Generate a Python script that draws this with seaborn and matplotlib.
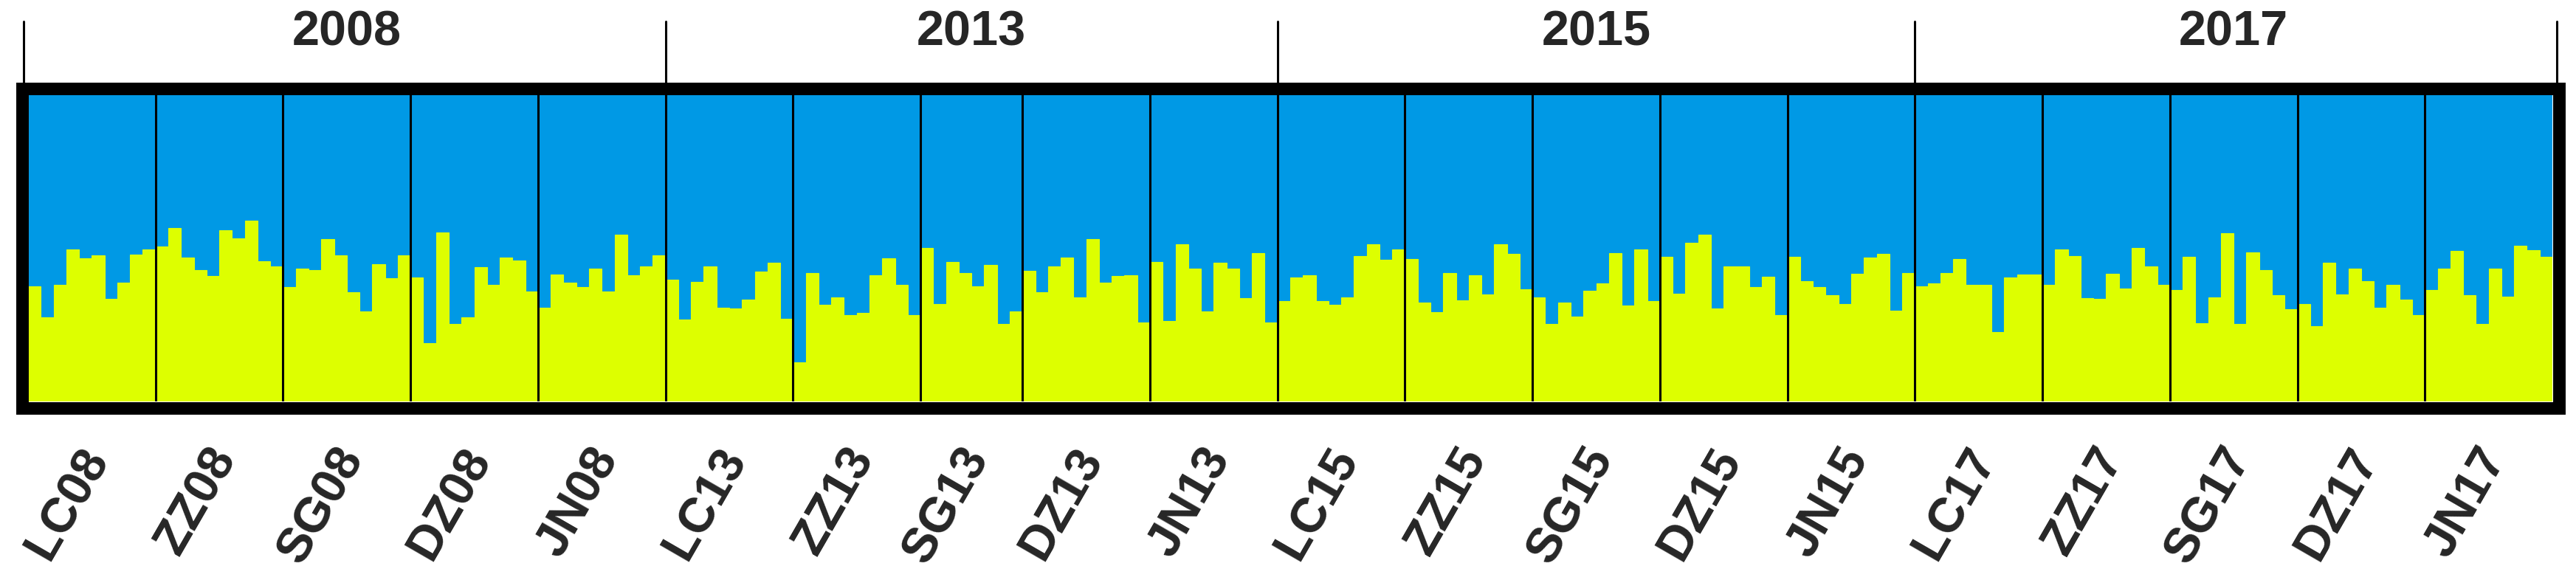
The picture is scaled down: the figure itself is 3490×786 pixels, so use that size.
#!/usr/bin/env python3

import matplotlib
matplotlib.use("Agg")
import matplotlib.pyplot as plt
import matplotlib.transforms as mtransforms
from matplotlib.patches import Rectangle
import seaborn as sns
import pandas as pd
import numpy as np

# ===================== DATA =====================
# Proportion of each individual assigned to the yellow cluster (K=2)

LC08 = [0.374, 0.274, 0.381, 0.495, 0.467, 0.476, 0.334, 0.387, 0.479, 0.495]
ZZ08 = [0.505, 0.565, 0.469, 0.429, 0.408, 0.557, 0.532, 0.589, 0.456, 0.439]
SG08 = [0.372, 0.432, 0.427, 0.529, 0.477, 0.356, 0.294, 0.446, 0.401, 0.477]
DZ08 = [0.405, 0.190, 0.551, 0.252, 0.274, 0.437, 0.381, 0.468, 0.460, 0.358]
JN08 = [0.305, 0.413, 0.388, 0.372, 0.432, 0.358, 0.543, 0.412, 0.439, 0.477]
LC13 = [0.397, 0.266, 0.389, 0.440, 0.305, 0.302, 0.332, 0.424, 0.451, 0.270]
ZZ13 = [0.128, 0.419, 0.316, 0.340, 0.282, 0.288, 0.411, 0.467, 0.380, 0.282]
SG13 = [0.499, 0.318, 0.455, 0.419, 0.376, 0.445, 0.252, 0.294]
DZ13 = [0.425, 0.356, 0.441, 0.468, 0.338, 0.529, 0.387, 0.409, 0.412, 0.257]
JN13 = [0.455, 0.262, 0.513, 0.433, 0.293, 0.451, 0.433, 0.337, 0.484, 0.257]
LC15 = [0.326, 0.403, 0.411, 0.326, 0.316, 0.340, 0.473, 0.513, 0.461, 0.495]
ZZ15 = [0.464, 0.322, 0.290, 0.419, 0.329, 0.411, 0.349, 0.513, 0.481, 0.366]
SG15 = [0.340, 0.253, 0.321, 0.276, 0.361, 0.384, 0.484, 0.312, 0.495, 0.328]
DZ15 = [0.472, 0.350, 0.517, 0.543, 0.302, 0.441, 0.441, 0.373, 0.407, 0.282]
JN15 = [0.472, 0.393, 0.372, 0.345, 0.318, 0.415, 0.469, 0.480, 0.296, 0.419]
LC17 = [0.376, 0.385, 0.419, 0.464, 0.379, 0.380, 0.226, 0.403, 0.413, 0.413]
ZZ17 = [0.381, 0.495, 0.473, 0.337, 0.333, 0.415, 0.368, 0.499, 0.439, 0.381]
SG17 = [0.362, 0.472, 0.256, 0.340, 0.547, 0.253, 0.485, 0.429, 0.345, 0.301]
DZ17 = [0.318, 0.246, 0.451, 0.349, 0.432, 0.393, 0.305, 0.380, 0.332, 0.282]
JN17 = [0.362, 0.433, 0.491, 0.346, 0.253, 0.432, 0.341, 0.508, 0.492, 0.471]

pop_names = [
    "LC08", "ZZ08", "SG08", "DZ08", "JN08",
    "LC13", "ZZ13", "SG13", "DZ13", "JN13",
    "LC15", "ZZ15", "SG15", "DZ15", "JN15",
    "LC17", "ZZ17", "SG17", "DZ17", "JN17",
]
pop_values = [
    LC08, ZZ08, SG08, DZ08, JN08,
    LC13, ZZ13, SG13, DZ13, JN13,
    LC15, ZZ15, SG15, DZ15, JN15,
    LC17, ZZ17, SG17, DZ17, JN17,
]
years = ["2008", "2013", "2015", "2017"]

BLUE = "#0099E5"
YELLOW = "#DDFF00"

# ===================== MAIN =====================

def main() -> None:

    sns.set_style("white")
    plt.rcParams["font.family"] = ["Liberation Sans", "DejaVu Sans"]

    rows = []
    for name, q in zip(pop_names, pop_values):
        for v in q:
            rows.append({"pop": name, "yellow": v, "total": 1.0})
    df = pd.DataFrame(rows)
    df["ind"] = np.arange(len(df))

    sizes = [len(q) for q in pop_values]
    edges = np.concatenate([[0], np.cumsum(sizes)]) - 0.5
    centers = (edges[:-1] + edges[1:]) / 2
    n = len(df)

    W, H = 3490, 786
    fig = plt.figure(figsize=(W / 100, H / 100), dpi=100)
    ax = fig.add_axes([38 / W, 1 - 544 / H, 3420 / W, 416 / H])

    # blue cluster = whole bar, yellow cluster drawn from the bottom
    sns.barplot(data=df, x="ind", y="total", color=BLUE, width=1.0,
                errorbar=None, saturation=1, linewidth=0.8,
                edgecolor=BLUE, ax=ax)
    sns.barplot(data=df, x="ind", y="yellow", color=YELLOW, width=1.0,
                errorbar=None, saturation=1, linewidth=0.8,
                edgecolor=YELLOW, ax=ax)

    ax.set_xlim(-0.5, n - 0.5)
    ax.set_ylim(0, 1)
    ax.axis("off")

    # population dividers
    for e in edges[1:-1]:
        ax.axvline(e, color="black", lw=2.2)

    # thick outer frame
    fig.add_artist(Rectangle(
        (29.5 / W, 1 - 552.5 / H), 3437 / W, 433 / H,
        transform=fig.transFigure, fill=False, edgecolor="black",
        lw=12.2, joinstyle="miter", zorder=10
    ))

    trans = mtransforms.blended_transform_factory(ax.transData, fig.transFigure)

    # year brackets
    group_edges = [edges[0], edges[5], edges[10], edges[15], edges[20]]
    off = 6 / 17.27
    bracket_x = [group_edges[0] - off] + list(group_edges[1:-1]) + [group_edges[-1] + off]
    for bx in bracket_x:
        ax.plot([bx, bx], [1 - 29 / H, 1 - 113 / H], color="black", lw=2.2,
                transform=trans, clip_on=False)

    for i, yr in enumerate(years):
        xc = (group_edges[i] + group_edges[i + 1]) / 2
        ax.text(xc, 1 - 45 / H, yr, transform=trans, ha="center", va="center",
                fontsize=48, fontweight="bold")

    # population labels
    for name, xc in zip(pop_names, centers):
        ax.text(xc + 0.5, 1 - 612 / H, name, transform=trans,
                rotation=60, rotation_mode="anchor", ha="right", va="center",
                fontsize=48, fontweight="bold")

    fig.savefig("out.png", dpi=100)
    plt.close("all")

    return

if __name__ == "__main__":
    main()
